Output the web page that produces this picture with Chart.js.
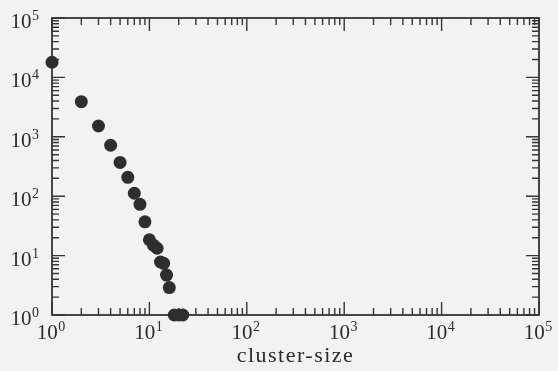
<!DOCTYPE html>
<html>
<head>
<meta charset="utf-8">
<script src="https://cdn.jsdelivr.net/npm/chart.js@4"></script>
<style>
  html, body { margin: 0; padding: 0; background: #f2f2f0; }
  #wrap { width: 558px; height: 371px; }
</style>
</head>
<body>
<div id="wrap"><canvas id="c" width="558" height="371"></canvas></div>
<script>
// Cluster-size distribution (log-log)
const clusterSizes  = [1, 2, 3, 4, 5, 6, 7, 8, 9, 10, 11, 12, 13, 14, 15, 16, 18, 20, 22];
const clusterCounts = [18000, 3900, 1520, 720, 370, 208, 112, 73, 37, 18.5, 15, 13.3, 7.8, 7.4, 4.7, 2.9, 1, 1, 1];
const xTickExponents = [0, 1, 2, 3, 4, 5];
const yTickExponents = [0, 1, 2, 3, 4, 5];
const xAxisTitle = 'cluster-size';

const INK = '#2b2b2b';
const SERIF = '"Liberation Serif", "Times New Roman", serif';

// Draw "10" with a raised exponent
function drawPower(ctx, exp, x, baseline, align) {
  ctx.font = '21px ' + SERIF;
  const wBase = ctx.measureText('10').width;
  ctx.font = '14px ' + SERIF;
  const wExp = ctx.measureText(String(exp)).width;
  const total = wBase + wExp + 0.5;
  let left = x;
  if (align === 'center') left = x - total / 2;
  else if (align === 'right') left = x - total;
  ctx.textAlign = 'left';
  ctx.textBaseline = 'alphabetic';
  ctx.font = '21px ' + SERIF;
  ctx.fillText('10', left, baseline);
  ctx.font = '14px ' + SERIF;
  ctx.fillText(String(exp), left + wBase + 0.5, baseline - 8);
}

const framePlugin = {
  id: 'frameAndTicks',
  beforeDatasetsDraw(chart) {
    const { ctx, chartArea: a, scales: { x, y } } = chart;
    ctx.save();
    ctx.strokeStyle = '#353535';
    ctx.lineWidth = 1.8;
    ctx.strokeRect(a.left, a.top, a.right - a.left, a.bottom - a.top);

    ctx.lineWidth = 1.4;
    const MAJOR = 13, MINOR = 7;
    ctx.beginPath();
    // x ticks (bottom and top), pointing into the plot
    for (let d = 0; d <= 5; d++) {
      for (let m = 1; m <= (d === 5 ? 1 : 9); m++) {
        const px = x.getPixelForValue(m * Math.pow(10, d));
        const len = m === 1 ? MAJOR : MINOR;
        ctx.moveTo(px, a.bottom); ctx.lineTo(px, a.bottom - len);
        ctx.moveTo(px, a.top);    ctx.lineTo(px, a.top + len);
      }
    }
    // y ticks (left and right), pointing into the plot
    for (let d = 0; d <= 5; d++) {
      for (let m = 1; m <= (d === 5 ? 1 : 9); m++) {
        const py = y.getPixelForValue(m * Math.pow(10, d));
        const len = m === 1 ? MAJOR : MINOR;
        ctx.moveTo(a.left, py);  ctx.lineTo(a.left + len, py);
        ctx.moveTo(a.right, py); ctx.lineTo(a.right - len, py);
      }
    }
    ctx.stroke();
    ctx.restore();
  },
  afterDraw(chart) {
    const { ctx, chartArea: a, scales: { x, y } } = chart;
    ctx.save();
    ctx.fillStyle = INK;
    xTickExponents.forEach(e => {
      const px = x.getPixelForValue(Math.pow(10, e));
      drawPower(ctx, e, px - 1, a.bottom + 24, 'center');
    });
    yTickExponents.forEach(e => {
      const py = y.getPixelForValue(Math.pow(10, e));
      drawPower(ctx, e, a.left - 13, py + 10, 'right');
    });
    ctx.font = '22px ' + SERIF;
    ctx.letterSpacing = '1.5px';
    ctx.textAlign = 'center';
    ctx.textBaseline = 'alphabetic';
    ctx.fillText(xAxisTitle, (a.left + a.right) / 2, a.bottom + 47);
    ctx.restore();
  }
};

new Chart(document.getElementById('c'), {
  type: 'scatter',
  data: {
    datasets: [{
      data: clusterSizes.map((s, i) => ({ x: s, y: clusterCounts[i] })),
      backgroundColor: '#2e2e2e',
      borderColor: '#2e2e2e',
      borderWidth: 0,
      pointRadius: 6.5,
      clip: false
    }]
  },
  options: {
    responsive: false,
    animation: false,
    events: [],
    layout: { padding: { left: 52, right: 19, top: 18, bottom: 56 } },
    plugins: { legend: { display: false }, tooltip: { enabled: false } },
    scales: {
      x: {
        type: 'logarithmic', min: 1, max: 100000,
        grid: { display: false }, border: { display: false },
        ticks: { display: false },
        afterFit(s) { s.height = 0; }
      },
      y: {
        type: 'logarithmic', min: 1, max: 100000,
        grid: { display: false }, border: { display: false },
        ticks: { display: false },
        afterFit(s) { s.width = 0; }
      }
    }
  },
  plugins: [framePlugin]
});
</script>
</body>
</html>
